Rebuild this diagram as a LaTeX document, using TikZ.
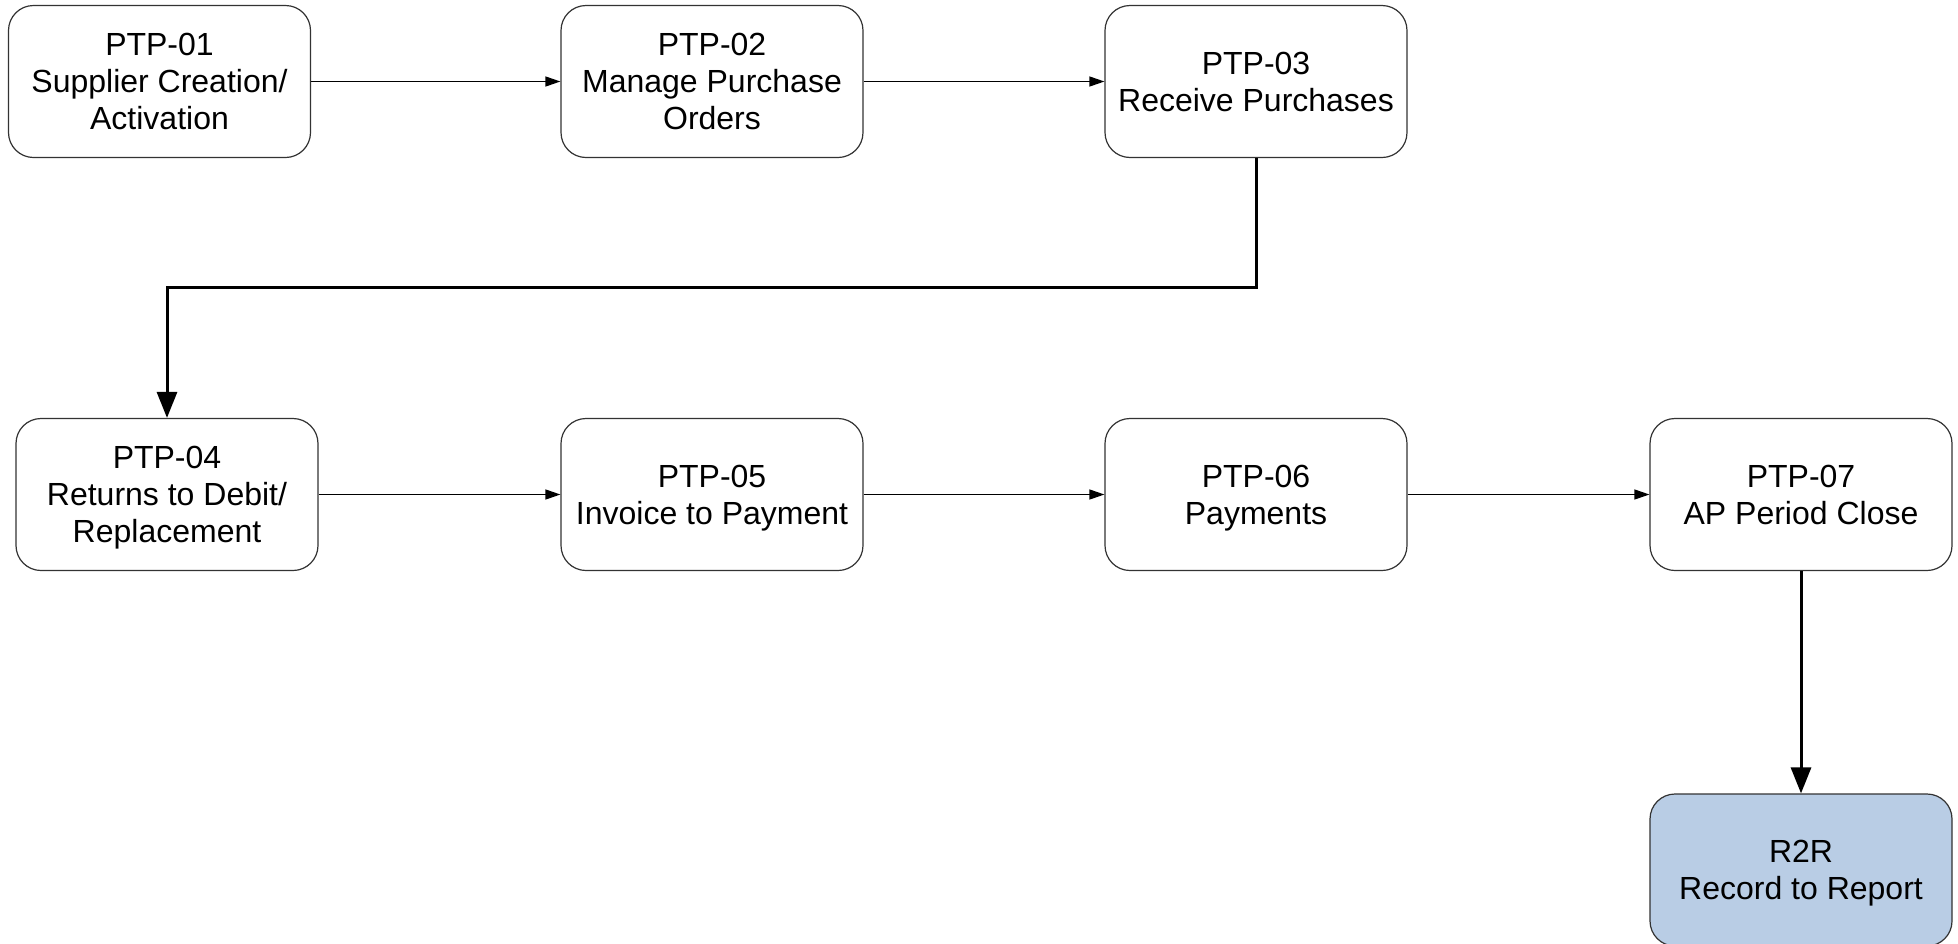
\documentclass[tikz,border=0pt]{standalone}
\usepackage{fontspec}
\setmainfont{Liberation Sans}
\usetikzlibrary{arrows.meta}
\definecolor{boxline}{HTML}{333333}
\definecolor{rtwor}{HTML}{B9CDE5}
\tikzset{
  procbox/.style={draw=boxline, line width=1.2pt, fill=white, rounded corners=25pt,
    minimum width=302pt, minimum height=152pt, align=center, inner sep=0pt,
    text depth=0pt, font=\fontsize{32}{37}\selectfont},
  thinarrow/.style={draw=black, line width=1.3pt, -{Triangle[length=15pt,width=10pt]}},
  thickarrow/.style={draw=black, line width=3pt, -{Triangle[length=26pt,width=20pt]}}
}
\begin{document}
\begin{tikzpicture}[x=1pt,y=-1pt]
\useasboundingbox (0,0) rectangle (1958,943);
\node[procbox] (p1) at (159.5,81.5) {PTP-01\\Supplier Creation/\\Activation};
\node[procbox] (p2) at (712,81.5) {PTP-02\\Manage Purchase\\Orders};
\node[procbox] (p3) at (1256,81.5) {PTP-03\\Receive Purchases};
\node[procbox] (p4) at (167,494.5) {PTP-04\\Returns to Debit/\\Replacement};
\node[procbox] (p5) at (712,494.5) {PTP-05\\Invoice to Payment};
\node[procbox] (p6) at (1256,494.5) {PTP-06\\Payments};
\node[procbox] (p7) at (1801,494.5) {PTP-07\\AP Period Close};
\node[procbox, fill=rtwor] (r2r) at (1801,870) {R2R\\Record to Report};
\coordinate (elbow) at (0,287);
\draw[thinarrow] (p1.east) -- (p2.west);
\draw[thinarrow] (p2.east) -- (p3.west);
\draw[thickarrow] (p3.south) -- (p3.south |- elbow) -| (p4.north);
\draw[thinarrow] (p4.east) -- (p5.west);
\draw[thinarrow] (p5.east) -- (p6.west);
\draw[thinarrow] (p6.east) -- (p7.west);
\draw[thickarrow] (p7.south) -- (r2r.north);
\end{tikzpicture}
\end{document}
